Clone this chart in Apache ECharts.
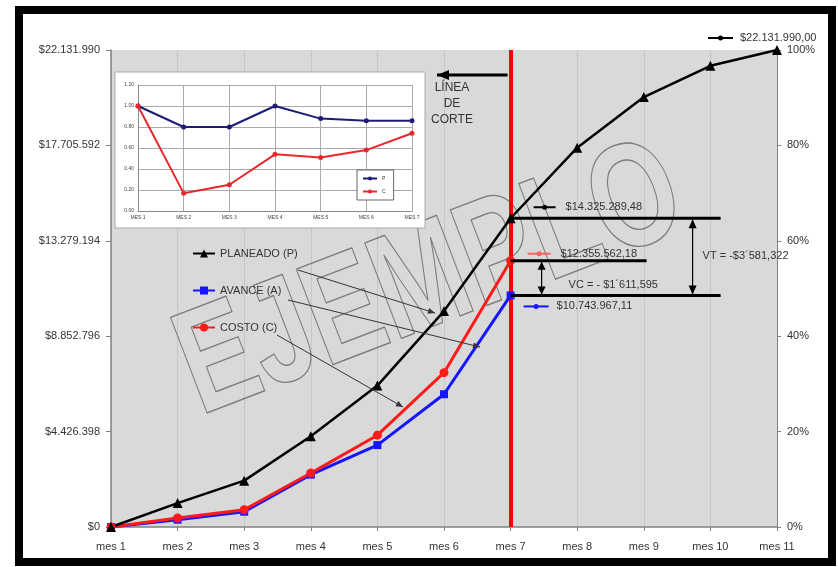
<!DOCTYPE html>
<html><head><meta charset="utf-8">
<script src="https://cdn.jsdelivr.net/npm/echarts@6.0.0/dist/echarts.min.js"></script>
<style>html,body{margin:0;padding:0;background:#fff;}#c{width:838px;height:567px;}</style>
</head><body><div id="c"></div>
<script>
// ---------- data ----------
const categories = ['mes 1','mes 2','mes 3','mes 4','mes 5','mes 6','mes 7','mes 8','mes 9','mes 10','mes 11'];
const planeado = [0, 1110000, 2150000, 4210000, 6560000, 10020000, 14325289.48, 17600000, 19950000, 21400000, 22131990];
const avance   = [0, 340000, 710000, 2430000, 3800000, 6160000, 10743967.11];
const costo    = [0, 420000, 800000, 2500000, 4260000, 7160000, 12355562.18];
const leftTicks  = ['$0','$4.426.398','$8.852.796','$13.279.194','$17.705.592','$22.131.990'];
const rightTicks = ['0%','20%','40%','60%','80%','100%'];
const insetCategories = ['MES 1','MES 2','MES 3','MES 4','MES 5','MES 6','MES 7'];
const insetP = [1.00, 0.80, 0.80, 1.00, 0.88, 0.86, 0.86];
const insetC = [1.00, 0.17, 0.25, 0.54, 0.51, 0.58, 0.74];
const insetTicks = ['0.00','0.20','0.40','0.60','0.80','1.00','1.20'];
const legendNames = ['PLANEADO (P)','AVANCE (A)','COSTO (C)'];
const cutLabel = 'LÍNEA\nDE\nCORTE';
const watermark = 'EJEMPLO';

const FONT = '"Liberation Sans", Arial, sans-serif';
const TXT = '#333';
const STEP = 4426398;

function money(v){
  const parts = v.toFixed(2).split('.');
  return '$' + parts[0].replace(/\B(?=(\d{3})+(?!\d))/g,'.') + ',' + parts[1];
}
function variance(v){
  const n = Math.round(Math.abs(v));
  const m = Math.floor(n/1e6), r = n % 1e6;
  return m + '´' + String(Math.floor(r/1000)).padStart(3,'0') + ',' + String(r%1000).padStart(3,'0');
}

const chart = echarts.init(document.getElementById('c'), null, {renderer:'canvas'});
const axisGrey = '#808080';
chart.setOption({
  animation:false,
  backgroundColor:'#fff',
  textStyle:{fontFamily:FONT},
  grid:[
    {left:111, right:61, top:50, bottom:40, show:true, backgroundColor:'#d9d9d9', borderWidth:0, z:1},
    {left:138, right:426, top:85, bottom:356, show:false, z:5}
  ],
  legend:[
    {data:legendNames, orient:'vertical', left:192, top:248, padding:0, itemGap:26, itemWidth:22, itemHeight:10,
     selectedMode:false, z:8, textStyle:{fontSize:11, color:TXT, fontFamily:FONT}},
    {data:['P','C'], orient:'vertical', left:357, top:170, padding:[6,8,6,5], itemGap:8, itemWidth:14, itemHeight:5,
     selectedMode:false, z:6, backgroundColor:'#fff', borderColor:'#666', borderWidth:1,
     textStyle:{fontSize:5, color:TXT, fontFamily:FONT}}
  ],
  xAxis:[
    {gridIndex:0, type:'category', data:categories, boundaryGap:false, z:2,
     axisLine:{lineStyle:{color:axisGrey, width:1.5}},
     axisTick:{show:true, length:4, lineStyle:{color:axisGrey}},
     axisLabel:{color:TXT, fontSize:11, fontFamily:FONT, margin:14},
     splitLine:{show:true, lineStyle:{color:'#c6c6c6', width:1}}},
    {gridIndex:1, type:'category', data:insetCategories, boundaryGap:false, z:5,
     axisLine:{lineStyle:{color:'#888'}}, axisTick:{show:false},
     axisLabel:{fontSize:5, color:'#444', margin:4, fontFamily:FONT},
     splitLine:{show:true, lineStyle:{color:'#aaa'}}}
  ],
  yAxis:[
    {gridIndex:0, type:'value', position:'left', min:0, max:22131990, interval:STEP, z:2,
     axisLine:{show:true, lineStyle:{color:axisGrey, width:1.5}},
     axisTick:{show:true, length:5, lineStyle:{color:axisGrey}},
     axisLabel:{color:TXT, fontSize:11, fontFamily:FONT, margin:11, formatter:(v)=>leftTicks[Math.round(v/STEP)]},
     splitLine:{show:false}},
    {gridIndex:0, type:'value', position:'right', min:0, max:1, interval:0.2, z:2,
     axisLine:{show:true, lineStyle:{color:axisGrey, width:1}},
     axisTick:{show:true, length:4, lineStyle:{color:axisGrey}},
     axisLabel:{color:TXT, fontSize:11, fontFamily:FONT, margin:10, formatter:(v)=>rightTicks[Math.round(v/0.2)]},
     splitLine:{show:false}},
    {gridIndex:1, type:'value', min:0, max:1.2, interval:0.2, z:5,
     axisLine:{show:true, lineStyle:{color:'#888'}}, axisTick:{show:false},
     axisLabel:{fontSize:5, color:'#444', margin:4, fontFamily:FONT, formatter:(v)=>insetTicks[Math.round(v/0.2)]},
     splitLine:{show:true, lineStyle:{color:'#aaa'}}}
  ],
  series:[
    {name:'AVANCE (A)', type:'line', xAxisIndex:0, yAxisIndex:0, data:avance, z:7,
     symbol:'rect', symbolSize:8, itemStyle:{color:'#1515ff'}, lineStyle:{color:'#1515ff', width:3}},
    {name:'COSTO (C)', type:'line', xAxisIndex:0, yAxisIndex:0, data:costo, z:7,
     symbol:'circle', symbolSize:9, itemStyle:{color:'#ff1a1a'}, lineStyle:{color:'#ff1a1a', width:3},
     markLine:{silent:true, symbol:'none', label:{show:false}, z:5,
       lineStyle:{color:'#ff0000', width:4, type:'solid'}, data:[{xAxis:'mes 7'}]}},
    {name:'PLANEADO (P)', type:'line', xAxisIndex:0, yAxisIndex:0, data:planeado, z:7,
     symbol:'triangle', symbolSize:10, itemStyle:{color:'#000'}, lineStyle:{color:'#000', width:2.5}},
    {name:'P', type:'line', xAxisIndex:1, yAxisIndex:2, data:insetP, z:6,
     symbol:'circle', symbolSize:5, itemStyle:{color:'#1c1c78'}, lineStyle:{color:'#1c1c78', width:2}},
    {name:'C', type:'line', xAxisIndex:1, yAxisIndex:2, data:insetC, z:6,
     symbol:'circle', symbolSize:5, itemStyle:{color:'#e8282d'}, lineStyle:{color:'#e8282d', width:2}}
  ]
});

// ---------- annotations ----------
const px = (i, v) => chart.convertToPixel({gridIndex:0}, [i, v]);
const [x7, yP] = px(6, planeado[6]);
const yC = px(6, costo[6])[1];
const yA = px(6, avance[6])[1];
const [x11, yT] = px(10, planeado[10]);

const G = [];
function line(x1,y1,x2,y2,color,w,z){
  G.push({type:'line', z:z||8, shape:{x1,y1,x2,y2}, style:{stroke:color, lineWidth:w}});
}
function head(x,y,ang,len,w,color,z){
  const c=Math.cos(ang), s=Math.sin(ang);
  const bx=x-len*c, by=y-len*s;
  G.push({type:'polygon', z:z||8, shape:{points:[[x,y],[bx+w*s,by-w*c],[bx-w*s,by+w*c]]}, style:{fill:color}});
}
function arrow(x1,y1,x2,y2,color,w,len,hw,both){
  line(x1,y1,x2,y2,color,w);
  const a=Math.atan2(y2-y1,x2-x1);
  head(x2,y2,a,len,hw,color);
  if(both) head(x1,y1,a+Math.PI,len,hw,color);
}
function text(x,y,t,opt){
  G.push({type:'text', z:8, x, y, style:Object.assign({text:t, fill:TXT, font:'11px '+FONT, align:'left', verticalAlign:'middle'}, opt||{})});
}
function key(x,y,color,w){
  line(x,y,x+w,y,color,2);
  G.push({type:'circle', z:8, shape:{cx:x+w/2, cy:y, r:2.5}, style:{fill:color}});
}

// outer frame
G.push({type:'rect', z:10, shape:{x:19,y:10,width:813,height:552}, style:{fill:'none', stroke:'#000', lineWidth:8}});
// watermark
G.push({type:'text', z:3, x:431, y:283, rotation:21*Math.PI/180, scaleY:1.35,
  style:{text:watermark, font:'bold 110px '+FONT, fill:'none', stroke:'#7a7a7a', lineWidth:1, align:'center', verticalAlign:'middle'}});
// inset box
G.push({type:'rect', z:4, shape:{x:115,y:72,width:310,height:156}, style:{fill:'#fff', stroke:'#aaa', lineWidth:1}});

// cut line label + arrow
text(452, 104, cutLabel, {font:'12px '+FONT, align:'center', lineHeight:16});
arrow(x7-3, 75, 437, 75, '#000', 3, 12, 5, false);

// horizontal level lines
line(x7, yP, x7+210, yP, '#000', 3);
line(x7, yC, x7+136, yC, '#000', 3);
line(x7, yA, x7+210, yA, '#000', 3);

// value labels
key(x7+23, yP-11, '#000', 22); text(x7+55, yP-11, money(planeado[6]));
key(x7+17, yC-7, '#ff6060', 23); text(x7+50, yC-7, money(costo[6]));
key(x7+13, yA+11, '#1515ff', 25); text(x7+46, yA+11, money(avance[6]));
key(x11-69, yT-12, '#000', 25); text(x11-37, yT-12, money(planeado[10]));

// variance arrows
arrow(x7+31, yC+1, x7+31, yA-1, '#000', 1.2, 8, 4, true);
text(x7+58, yA-10, 'VC = - $' + variance(costo[6]-avance[6]));
arrow(x7+182, yP+1, x7+182, yA-1, '#000', 1.2, 9, 4, true);
text(x7+192, (yP+yA)/2 - 1, 'VT = -$' + variance(planeado[6]-avance[6]));

// pointer lines from legend labels
arrow(298, 270, 435, 313, '#333', 1, 7, 3, false);
arrow(288, 300, 480, 347, '#333', 1, 7, 3, false);
arrow(277, 335, 403, 407, '#333', 1, 7, 3, false);

chart.setOption({graphic:{elements:G}});
</script></body></html>
